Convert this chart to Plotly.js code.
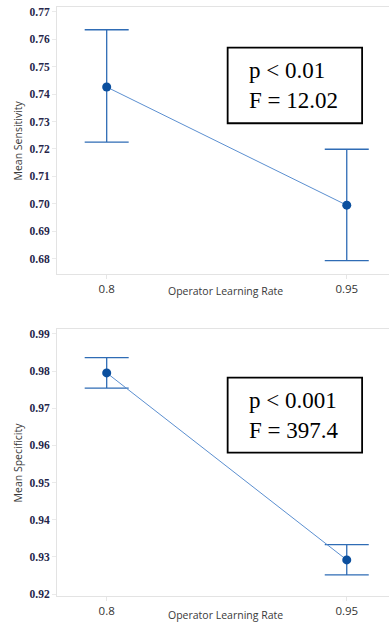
<!DOCTYPE html>
<html>
<head>
<meta charset="utf-8">
<script src="https://cdn.plot.ly/plotly-3.0.1.min.js"></script>
<style>
html,body{margin:0;padding:0;background:#fff;}
#chart{width:389px;height:625px;}
</style>
</head>
<body>
<div id="chart"></div>
<script>
var categories = ["0.8", "0.95"];
var sensitivityMean = [0.7426, 0.6995];
var sensitivityUpper = [0.7635, 0.7199];
var sensitivityLower = [0.7225, 0.6793];
var specificityMean = [0.9795, 0.9292];
var specificityUpper = [0.9836, 0.9333];
var specificityLower = [0.9754, 0.9252];
var sensitivityStats = ["p < 0.01", "F = 12.02"];
var specificityStats = ["p < 0.001", "F = 397.4"];
var xTitle = "Operator Learning Rate";
var yTitles = ["Mean Sensitivity", "Mean Specificity"];

function diff(a, b) { return a.map(function (v, i) { return v - b[i]; }); }

function trace(mean, up, lo, xa, ya) {
  return {
    x: categories, y: mean, xaxis: xa, yaxis: ya,
    type: "scatter", mode: "lines+markers",
    line: {color: "#5b8fd0", width: 1},
    marker: {color: "#0b4f9e", size: 9},
    error_y: {type: "data", symmetric: false,
      array: diff(up, mean), arrayminus: diff(mean, lo),
      color: "#2f6cb5", thickness: 1.3, width: 22},
    hoverinfo: "none", showlegend: false
  };
}

var data = [
  trace(sensitivityMean, sensitivityUpper, sensitivityLower, "x", "y"),
  trace(specificityMean, specificityUpper, specificityLower, "x2", "y2")
];

var xbase = {
  type: "category", range: [-0.207, 1.176],
  showline: true, linecolor: "#e3e3e3", linewidth: 1, mirror: true,
  showgrid: false, zeroline: false,
  ticks: "outside", ticklen: 4, tickcolor: "#e6e6e6",
  tickfont: {family: "Open Sans", size: 11.5, color: "#333"}
};
var ybase = {
  showline: true, linecolor: "#e3e3e3", linewidth: 1,
  showgrid: false, zeroline: false, dtick: 0.01, tickformat: ".2f",
  ticks: "outside", ticklen: 4, tickcolor: "#eaeaea",
  tickfont: {family: "Liberation Serif", size: 11.5, color: "#26264a", weight: "bold"}
};

function ax(base, extra) { return Object.assign({}, base, extra); }

var serif = {family: "Liberation Serif", size: 23, color: "#000"};
var sans = {family: "Open Sans", size: 10.5, color: "#3a3a3a"};

var layout = {
  width: 389, height: 625,
  margin: {l: 57, r: 0, t: 7, b: 29},
  paper_bgcolor: "#fff", plot_bgcolor: "#fff",
  xaxis: ax(xbase, {anchor: "y"}),
  yaxis: ax(ybase, {domain: [0.5467, 1], range: [0.6744, 0.7718], anchor: "x"}),
  xaxis2: ax(xbase, {anchor: "y2"}),
  yaxis2: ax(ybase, {domain: [0, 0.4533], range: [0.9195, 0.9913], anchor: "x2"}),
  shapes: [
    {type: "rect", xref: "paper", yref: "paper", x0: 0.514, x1: 0.919, y0: 0.8026, y1: 0.9309,
     line: {color: "#000", width: 1.8}, fillcolor: "rgba(0,0,0,0)"},
    {type: "rect", xref: "paper", yref: "paper", x0: 0.514, x1: 0.919, y0: 0.2433, y1: 0.3706,
     line: {color: "#000", width: 1.8}, fillcolor: "rgba(0,0,0,0)"}
  ],
  annotations: [
    {xref: "paper", yref: "paper", x: 0.572, y: 0.866, xanchor: "left", yanchor: "middle",
     align: "left", showarrow: false, text: sensitivityStats.join("<br>"), font: serif},
    {xref: "paper", yref: "paper", x: 0.572, y: 0.307, xanchor: "left", yanchor: "middle",
     align: "left", showarrow: false, text: specificityStats.join("<br>"), font: serif},
    {xref: "paper", yref: "paper", x: 0.509, y: 0.5183, xanchor: "center", yanchor: "middle",
     showarrow: false, text: xTitle, font: sans},
    {xref: "paper", yref: "paper", x: 0.509, y: -0.032, xanchor: "center", yanchor: "middle",
     showarrow: false, text: xTitle, font: sans},
    {xref: "paper", yref: "paper", x: -0.1175, y: 0.7733, xanchor: "center", yanchor: "middle",
     textangle: -90, showarrow: false, text: yTitles[0], font: sans},
    {xref: "paper", yref: "paper", x: -0.1175, y: 0.2267, xanchor: "center", yanchor: "middle",
     textangle: -90, showarrow: false, text: yTitles[1], font: sans}
  ]
};

Plotly.newPlot("chart", data, layout, {staticPlot: true, displayModeBar: false});
</script>
</body>
</html>
